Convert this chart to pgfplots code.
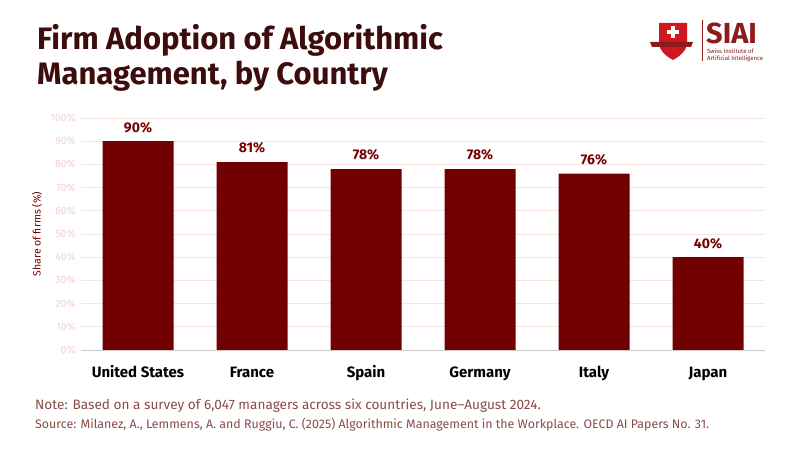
\documentclass[border=0pt]{standalone}
\usepackage{pgfplots}
\pgfplotsset{compat=1.18}
\usepackage{fontspec}
\setmainfont{Fira Sans}
\definecolor{barred}{HTML}{730000}
\definecolor{titlec}{HTML}{3D0C0C}
\definecolor{tickc}{HTML}{F3CFCF}
\definecolor{gridc}{HTML}{F8E2E2}
\definecolor{notec}{HTML}{8A4B4B}
\definecolor{logored}{HTML}{D0161E}
\definecolor{logodark}{HTML}{8E1B1B}
\begin{document}
\begin{tikzpicture}[x=1pt,y=1pt]
\path[fill=white] (0,0) rectangle (800,450);
\begin{axis}[
  at={(81pt,100pt)}, anchor=south west,
  width=684pt, height=232pt, scale only axis,
  xmin=-0.5, xmax=5.5, ymin=0, ymax=100,
  ybar, bar width=71pt,
  xtick={0,1,2,3,4,5},
  xticklabels={United States,France,Spain,Germany,Italy,Japan},
  xticklabel style={font=\fontsize{15}{17}\selectfont\bfseries, text=black, anchor=base, yshift=-27pt},
  ytick={0,10,...,100},
  yticklabel={\pgfmathprintnumber{\tick}\%},
  /pgf/number format/assume math mode=true,
  yticklabel style={font=\fontsize{10.5}{12}\selectfont, text=tickc, xshift=-2pt},
  ymajorgrids, grid style={gridc, line width=0.8pt},
  axis line style={draw=none},
  major tick length=0pt,
  ylabel={Share of firms (\%)},
  ylabel style={font=\fontsize{10.5}{12}\selectfont, text=barred, at={(axis description cs:-0.0643,0.5)}, anchor=center},
  nodes near coords={\pgfmathprintnumber{\pgfplotspointmeta}\%},
  nodes near coords style={font=\fontsize{14}{16}\selectfont\bfseries, text=barred, anchor=south, yshift=5pt},
  clip=false,
]
\addplot[fill=barred, draw=none] coordinates {(0,90) (1,81) (2,78) (3,78) (4,76) (5,40)};
\draw[gray!40, line width=0.8pt] (axis cs:-0.5,0) -- (axis cs:5.5,0);
\end{axis}
% title
\node[anchor=base west, inner sep=0, text=titlec, font=\fontsize{31}{34}\selectfont\bfseries] at (37,400) {Firm Adoption of Algorithmic};
\node[anchor=base west, inner sep=0, text=titlec, font=\fontsize{31}{34}\selectfont\bfseries] at (37,365) {Management, by Country};
% notes
\node[anchor=base west, inner sep=0, text=notec, font=\fontsize{13.6}{15}\selectfont] at (35,41) {Note: Based on a survey of 6,047 managers across six countries, June–August 2024.};
\node[anchor=base west, inner sep=0, text=notec, font=\fontsize{12.4}{14}\selectfont] at (35,22) {Source: Milanez, A., Lemmens, A. and Ruggiu, C. (2025) Algorithmic Management in the Workplace. OECD AI Papers No. 31.};
% logo
\fill[logored] (659,427) -- (687,427) -- (687,408) .. controls (687,399) and (680,394) .. (673,390) .. controls (666,394) and (659,399) .. (659,408) -- cycle;
\fill[white] (671,424) rectangle (675,412);
\fill[white] (667,420) rectangle (679,416);
\fill[logodark] (650,408) -- (693,408) -- (691,403) -- (652,403) -- cycle;
\draw[logodark, line width=0.8pt] (702,430) -- (702,389);
\node[anchor=base west, inner sep=0, text depth=0pt, text=logodark, font=\fontsize{29}{30}\selectfont\bfseries] at (706,406) {SIAI};
\node[anchor=west, inner sep=0, align=left, text=logodark, font=\fontsize{6}{6.4}\selectfont] at (707,394.5) {Swiss Institute of\\Artificial Intelligence};
\end{tikzpicture}
\end{document}
